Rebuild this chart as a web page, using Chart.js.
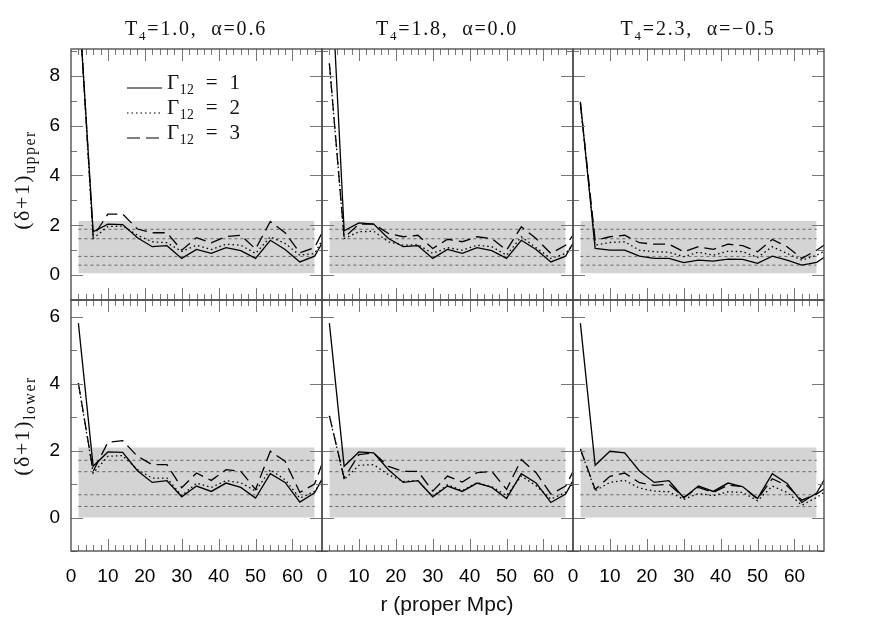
<!DOCTYPE html>
<html>
<head>
<meta charset="utf-8">
<script src="https://cdn.jsdelivr.net/npm/chart.js@4.4.1/dist/chart.umd.min.js"></script>
<style>
body { margin: 0; background: #fff; }
#wrap { position: relative; width: 872px; height: 623px; overflow: hidden; background: #fff; }
#wrap canvas { position: absolute; left: 0; top: 0; }
.serif { position: absolute; font-family: "Liberation Serif", "DejaVu Serif", serif; color: #111; white-space: nowrap; }
.serif sub { font-size: 65%; vertical-align: -0.35em; }
.ptitle { font-size: 20px; letter-spacing: 1.8px; top: 17px; transform: translateX(-50%); }
.ytitle { font-size: 22px; letter-spacing: 1.5px; transform: translate(-50%, -50%) rotate(-90deg); }
.ytitle sub { font-size: 72%; }
.xtitle { position: absolute; font-family: "Liberation Sans", Arial, sans-serif; font-size: 21px; color: #111; left: 447px; top: 592px; transform: translateX(-50%); white-space: nowrap; }
.legsvg { position: absolute; }
.legtxt { font-size: 21px; line-height: 20px; letter-spacing: 0.5px; }
</style>
</head>
<body>
<div id="wrap">
  <canvas id="c0" width="872" height="623"></canvas>
  <canvas id="c1" width="872" height="623"></canvas>
  <canvas id="c2" width="872" height="623"></canvas>
  <canvas id="c3" width="872" height="623"></canvas>
  <canvas id="c4" width="872" height="623"></canvas>
  <canvas id="c5" width="872" height="623"></canvas>

  <div class="serif ptitle" style="left:196px">T<sub>4</sub>=1.0,&nbsp; α=0.6</div>
  <div class="serif ptitle" style="left:447px">T<sub>4</sub>=1.8,&nbsp; α=0.0</div>
  <div class="serif ptitle" style="left:698px">T<sub>4</sub>=2.3,&nbsp; α=−0.5</div>

  <div class="serif ytitle" style="left:24px;top:180px">(δ+1)<sub>upper</sub></div>
  <div class="serif ytitle" style="left:24px;top:426px">(δ+1)<sub>lower</sub></div>

  <div class="xtitle">r (proper Mpc)</div>

  <svg class="legsvg" style="left:127px;top:82px" width="36" height="12"><line x1="0" y1="6" x2="35" y2="6" stroke="#000" stroke-width="1.2"/></svg>
  <svg class="legsvg" style="left:127px;top:107px" width="36" height="12"><line x1="0" y1="6" x2="35" y2="6" stroke="#000" stroke-width="1.2" stroke-dasharray="1.5 3"/></svg>
  <svg class="legsvg" style="left:127px;top:132px" width="36" height="12"><line x1="0" y1="6" x2="35" y2="6" stroke="#000" stroke-width="1.2" stroke-dasharray="13 6"/></svg>
  <div class="serif legtxt" style="left:167px;top:72px">Γ<sub>12</sub>&nbsp; = &nbsp;1</div>
  <div class="serif legtxt" style="left:167px;top:97px">Γ<sub>12</sub>&nbsp; = &nbsp;2</div>
  <div class="serif legtxt" style="left:167px;top:122px">Γ<sub>12</sub>&nbsp; = &nbsp;3</div>
</div>

<script>
// radii of the bins (proper Mpc)
const rVals = [2, 6, 10, 14, 18, 22, 26, 30, 34, 38, 42, 46, 50, 54, 58, 62, 66, 70];

const xTicks = [0, 10, 20, 30, 40, 50, 60];
const yTicksUpper = [0, 2, 4, 6, 8];
const yTicksLower = [0, 2, 4, 6];

// (delta+1) upper, one array per Gamma_12 for each panel
const up1_g1 = [11.3, 1.74, 2.05, 2.03, 1.5, 1.14, 1.18, 0.67, 1.03, 0.87, 1.1, 0.98, 0.67, 1.4, 1.03, 0.53, 0.76, 1.8];
const up1_g2 = [11.4, 1.47, 1.95, 1.97, 1.6, 1.34, 1.3, 0.95, 1.2, 1.03, 1.24, 1.2, 0.87, 1.54, 1.27, 0.8, 0.87, 1.9];
const up1_g3 = [11.4, 1.55, 2.45, 2.45, 1.85, 1.7, 1.7, 1.0, 1.5, 1.3, 1.55, 1.6, 1.05, 2.15, 1.7, 0.9, 1.1, 2.3];

const up2_g1 = [13.6, 1.78, 2.1, 2.05, 1.47, 1.14, 1.18, 0.67, 1.03, 0.87, 1.1, 0.98, 0.67, 1.4, 1.03, 0.53, 0.76, 1.8];
const up2_g2 = [8.5, 1.47, 1.74, 1.76, 1.34, 1.2, 1.22, 0.87, 1.1, 1.0, 1.2, 1.14, 0.8, 1.54, 1.1, 0.67, 0.87, 1.6];
const up2_g3 = [8.5, 1.5, 2.05, 2.05, 1.67, 1.54, 1.6, 1.07, 1.44, 1.34, 1.54, 1.47, 1.0, 1.94, 1.47, 0.87, 1.2, 2.0];

const up3_g1 = [6.96, 1.07, 1.0, 1.0, 0.76, 0.67, 0.67, 0.5, 0.6, 0.56, 0.64, 0.63, 0.47, 0.76, 0.6, 0.4, 0.51, 0.9];
const up3_g2 = [6.9, 1.2, 1.31, 1.34, 1.0, 0.94, 0.92, 0.74, 0.92, 0.8, 0.96, 0.94, 0.71, 1.14, 0.87, 0.6, 0.8, 1.1];
const up3_g3 = [6.9, 1.4, 1.54, 1.6, 1.3, 1.24, 1.24, 0.94, 1.14, 1.03, 1.24, 1.18, 0.94, 1.43, 1.14, 0.67, 1.0, 1.4];

// (delta+1) lower
const lo1_g1 = [5.81, 1.53, 1.96, 1.95, 1.4, 1.05, 1.1, 0.62, 0.94, 0.78, 1.03, 0.9, 0.58, 1.31, 1.05, 0.46, 0.74, 1.55];
const lo1_g2 = [4.02, 1.33, 1.83, 1.85, 1.43, 1.18, 1.18, 0.65, 1.03, 0.9, 1.1, 1.04, 0.79, 1.43, 1.13, 0.58, 0.78, 1.4];
const lo1_g3 = [4.02, 1.38, 2.25, 2.3, 1.83, 1.58, 1.58, 0.89, 1.33, 1.11, 1.43, 1.38, 0.84, 1.98, 1.68, 0.75, 1.0, 2.2];

const lo2_g1 = [5.81, 1.53, 1.96, 1.93, 1.43, 1.05, 1.1, 0.62, 0.94, 0.78, 1.03, 0.9, 0.57, 1.31, 1.03, 0.45, 0.7, 1.5];
const lo2_g2 = [3.04, 1.13, 1.56, 1.58, 1.28, 1.08, 1.1, 0.63, 0.98, 0.8, 1.04, 0.92, 0.66, 1.24, 0.95, 0.55, 0.75, 1.3];
const lo2_g3 = [3.04, 1.18, 1.88, 1.93, 1.53, 1.38, 1.38, 0.79, 1.24, 1.06, 1.34, 1.38, 0.84, 1.73, 1.34, 0.7, 0.94, 1.8];

const lo3_g1 = [5.81, 1.56, 1.98, 1.93, 1.39, 1.05, 1.1, 0.59, 0.94, 0.78, 1.03, 0.92, 0.57, 1.31, 1.02, 0.45, 0.73, 1.5];
const lo3_g2 = [2.05, 0.8, 1.05, 1.11, 0.88, 0.79, 0.77, 0.54, 0.72, 0.65, 0.77, 0.75, 0.5, 0.94, 0.75, 0.37, 0.6, 0.9];
const lo3_g3 = [2.05, 0.84, 1.23, 1.33, 1.04, 0.96, 1.0, 0.6, 0.9, 0.75, 0.97, 0.92, 0.55, 1.16, 0.95, 0.52, 0.7, 1.0];

// grey band and dashed reference levels
const bandX = [2, 66];
const bandUpper = [0.07, 2.17];
const bandLower = [0, 2.09];
const refUpper = [1.84, 1.46, 0.75, 0.40];
const refLower = [1.71, 1.37, 0.68, 0.33];

const cols = [[71, 322], [322, 573], [573, 824]];
const rows = [[49, 300], [300, 551]];
const W = 872, H = 623;

const dashes = [[], [1.5, 3], [12, 6]];

function pts(vals) {
    return rVals.map((r, i) => ({ x: r, y: vals[i] }));
}

// frame with inward ticks on all four sides
const frameTicks = {
    id: 'frameTicks',
    afterDraw(chart) {
        const ctx = chart.ctx;
        const a = chart.chartArea;
        const xs = chart.scales.x, ys = chart.scales.y;
        ctx.save();
        ctx.strokeStyle = '#777';
        ctx.lineWidth = 1;
        ctx.beginPath();
        for (let v = 2; v < xs.max; v += 2) {
            const px = Math.round(xs.getPixelForValue(v)) + 0.5;
            const len = v % 10 === 0 ? 12 : 6;
            ctx.moveTo(px, a.bottom); ctx.lineTo(px, a.bottom - len);
            ctx.moveTo(px, a.top); ctx.lineTo(px, a.top + len);
        }
        for (let v = Math.ceil(ys.min); v < ys.max; v++) {
            const py = Math.round(ys.getPixelForValue(v)) + 0.5;
            const len = v % 2 === 0 ? 12 : 6;
            ctx.moveTo(a.left, py); ctx.lineTo(a.left + len, py);
            ctx.moveTo(a.right, py); ctx.lineTo(a.right - len, py);
        }
        ctx.stroke();
        ctx.strokeStyle = '#444';
        ctx.lineWidth = 1.3;
        ctx.strokeRect(a.left, a.top, a.right - a.left, a.bottom - a.top);
        ctx.restore();
    }
};

function makePanel(id, col, row, series, yMin, yMax, yTicks, band, refs) {
    const datasets = [];
    series.forEach(function (s, i) {
        datasets.push({
            data: pts(s), borderColor: '#000', borderWidth: 1.3,
            borderDash: dashes[i], pointRadius: 0, fill: false, order: 0, clip: 0
        });
    });
    refs.forEach(function (v) {
        datasets.push({
            data: bandX.map(x => ({ x: x, y: v })), borderColor: '#666', borderWidth: 1,
            borderDash: [3, 3], pointRadius: 0, fill: false, order: 1, clip: 0
        });
    });
    datasets.push({
        data: bandX.map(x => ({ x: x, y: band[1] })), borderWidth: 0, borderColor: 'rgba(0,0,0,0)',
        backgroundColor: '#d4d4d4', fill: { value: band[0] }, pointRadius: 0, order: 2, clip: 0
    });

    const c = cols[col], r = rows[row];
    // the axis boxes take the left / bottom margins so their labels are not clipped
    const axisW = c[0], axisH = H - r[1];
    new Chart(document.getElementById(id).getContext('2d'), {
        type: 'line',
        data: { datasets: datasets },
        options: {
            responsive: false,
            animation: false,
            devicePixelRatio: 1,
            layout: { padding: { left: 0, right: W - c[1], top: r[0], bottom: 0 } },
            plugins: { legend: { display: false }, tooltip: { enabled: false }, title: { display: false } },
            elements: { line: { tension: 0 } },
            scales: {
                x: {
                    type: 'linear', min: 0, max: 68,
                    grid: { display: false, drawTicks: false }, border: { display: false },
                    afterBuildTicks: s => { s.ticks = xTicks.map(v => ({ value: v })); },
                    afterFit: s => { s.height = axisH; },
                    ticks: { display: row === 1, padding: 14, color: '#000', maxRotation: 0, autoSkip: false, font: { family: 'Liberation Sans', size: 19 } }
                },
                y: {
                    type: 'linear', min: yMin, max: yMax,
                    grid: { display: false, drawTicks: false }, border: { display: false },
                    afterBuildTicks: s => { s.ticks = yTicks.map(v => ({ value: v })); },
                    afterFit: s => { s.width = axisW; },
                    ticks: { display: col === 0, padding: 11, color: '#000', autoSkip: false, font: { family: 'Liberation Sans', size: 19 } }
                }
            }
        },
        plugins: [frameTicks]
    });
}

makePanel('c0', 0, 0, [up1_g1, up1_g2, up1_g3], -1, 9.08, yTicksUpper, bandUpper, refUpper);
makePanel('c1', 1, 0, [up2_g1, up2_g2, up2_g3], -1, 9.08, yTicksUpper, bandUpper, refUpper);
makePanel('c2', 2, 0, [up3_g1, up3_g2, up3_g3], -1, 9.08, yTicksUpper, bandUpper, refUpper);
makePanel('c3', 0, 1, [lo1_g1, lo1_g2, lo1_g3], -1, 6.5, yTicksLower, bandLower, refLower);
makePanel('c4', 1, 1, [lo2_g1, lo2_g2, lo2_g3], -1, 6.5, yTicksLower, bandLower, refLower);
makePanel('c5', 2, 1, [lo3_g1, lo3_g2, lo3_g3], -1, 6.5, yTicksLower, bandLower, refLower);
</script>
</body>
</html>
